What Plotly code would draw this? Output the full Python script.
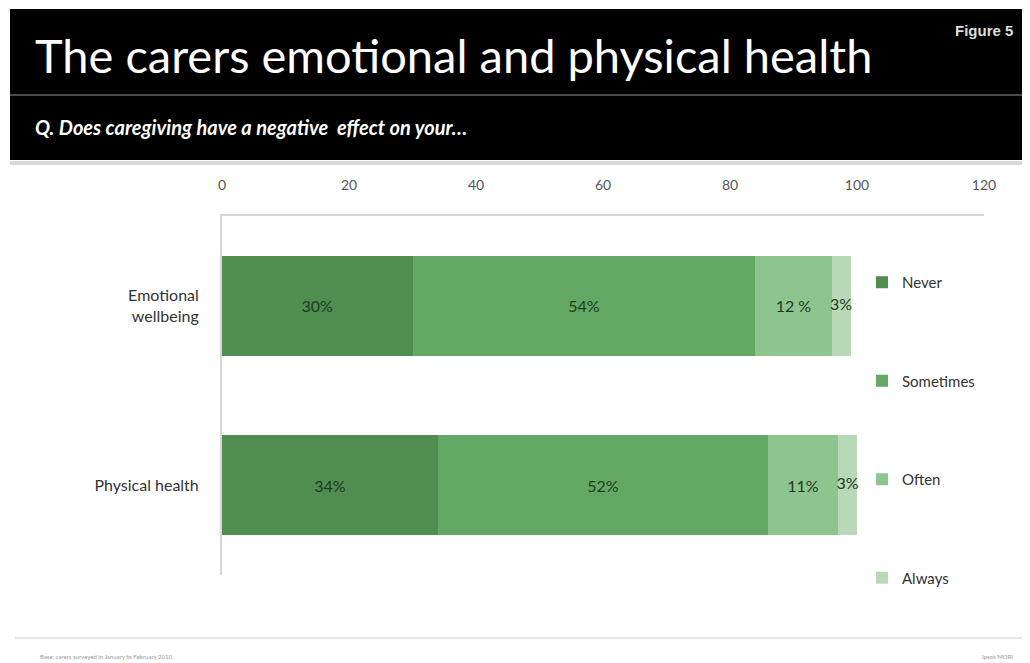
import plotly.graph_objects as go

categories = ["Emotional<br>wellbeing", "Physical health"]
series_names = ["Never", "Sometimes", "Often", "Always"]
never = [30, 34]
sometimes = [54, 52]
often = [12, 11]
always = [3, 3]
never_lbl = ["30%", "34%"]
sometimes_lbl = ["54%", "52%"]
often_lbl = ["12 %", "11%"]
always_lbl = ["3%", "3%"]
x_ticks = [0, 20, 40, 60, 80, 100, 120]

colors = ["#4f8d51", "#63a965", "#8ec48e", "#b9d9b6"]
OFF = 8  # page body margin in the browser
W, H = 1030 - OFF, 663 - OFF
L, R, T, B = 222 - OFF, 984 - OFF, 216 - OFF, 575 - OFF


def px(xp):
    return (xp - OFF - L) / (R - L)


def py(yp):
    return (B - (yp - OFF)) / (B - T)


fig = go.Figure()
values = [never, sometimes, often, always]
labels = [never_lbl, sometimes_lbl, often_lbl, always_lbl]
for i, (name, vals, lbl) in enumerate(zip(series_names, values, labels)):
    fig.add_trace(go.Bar(
        y=categories, x=vals, name=name, orientation="h",
        marker=dict(color=colors[i], line=dict(width=0)),
        text=lbl if i < 3 else None,
        textposition="inside" if i < 3 else "none",
        insidetextanchor="middle",
        textfont=dict(size=16, color="#1e3b1f", family="Lato"),
        legendgroup=name,
        hoverinfo="x+name",
    ))

# labels for the thin "Always" segments, centred on the segment
mid_always = [n + s + o + a / 2 for n, s, o, a in zip(never, sometimes, often, always)]
fig.add_trace(go.Scatter(
    x=mid_always, y=categories, mode="text", text=always_lbl,
    textfont=dict(size=16, color="#1e3b1f", family="Lato"),
    showlegend=False, hoverinfo="skip",
))

shapes = [
    # black title band
    dict(type="rect", xref="paper", yref="paper", x0=px(10), x1=px(1040),
         y0=py(160), y1=py(9), fillcolor="black", line=dict(width=0), layer="above"),
    dict(type="line", xref="paper", yref="paper", x0=px(10), x1=px(1040),
         y0=py(95), y1=py(95), line=dict(color="#4a4a4a", width=2)),
    dict(type="line", xref="paper", yref="paper", x0=px(10), x1=px(1040),
         y0=py(163), y1=py(163), line=dict(color="#d8d8d8", width=4)),
    # footer rule
    dict(type="line", xref="paper", yref="paper", x0=px(15), x1=px(1025),
         y0=py(638), y1=py(638), line=dict(color="#e6e6e6", width=2)),
]

annotations = [
    dict(text="The carers emotional and physical health", xref="paper", yref="paper",
         x=px(33), y=py(55), xanchor="left", yanchor="middle", showarrow=False,
         font=dict(size=47, color="white", family="Lato")),
    dict(text="<b><i>Q. Does caregiving have a negative  effect on your…</i></b>",
         xref="paper", yref="paper", x=px(33), y=py(127), xanchor="left",
         yanchor="middle", showarrow=False,
         font=dict(size=20, color="white", family="Lato")),
    dict(text="<b>Figure 5</b>", xref="paper", yref="paper", x=px(953), y=py(30),
         xanchor="left", yanchor="middle", showarrow=False,
         font=dict(size=15, color="#dddddd", family="Liberation Sans")),
    dict(text="Base: carers surveyed in January to February 2010", xref="paper", yref="paper",
         x=px(38), y=py(656), xanchor="left", yanchor="middle", showarrow=False,
         font=dict(size=6, color="#999999", family="Lato")),
    dict(text="Ipsos MORI", xref="paper", yref="paper", x=px(1015), y=py(656),
         xanchor="right", yanchor="middle", showarrow=False,
         font=dict(size=6, color="#999999", family="Lato")),
]

fig.update_layout(
    width=W, height=H,
    margin=dict(l=L, r=W - R, t=T, b=H - B, autoexpand=False),
    paper_bgcolor="white", plot_bgcolor="white",
    barmode="stack", bargap=0.444,
    shapes=shapes, annotations=annotations,
    xaxis=dict(range=[0, 120], tickvals=x_ticks, side="top", showgrid=False,
               zeroline=False, showline=True, linecolor="#d6d6d6", linewidth=2,
               ticks="", ticklabelstandoff=18,
               tickfont=dict(size=14, color="#555555", family="Lato")),
    yaxis=dict(autorange="reversed", showgrid=False, showline=True,
               linecolor="#d6d6d6", linewidth=2, ticks="", ticklabelstandoff=18,
               tickfont=dict(size=16, color="#333333", family="Lato")),
    legend=dict(x=px(862), y=py(266), xanchor="left", yanchor="top",
                traceorder="grouped", tracegroupgap=76, bgcolor="rgba(0,0,0,0)",
                font=dict(size=15, color="#333333", family="Lato"),
                itemwidth=30),
    showlegend=True,
)

fig.write_html("out.html")
